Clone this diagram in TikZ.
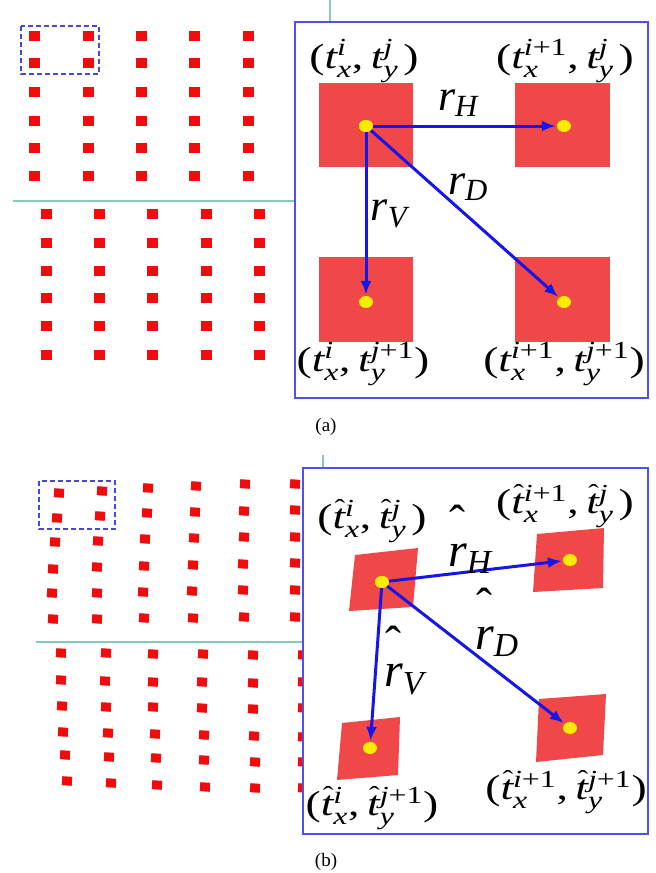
\RequirePackage{fix-cm}
\documentclass[tikz,border=0pt]{standalone}
\usepackage{amsmath}
\usepackage{fontspec}
\setmainfont{Liberation Serif}
\newfontfamily\tms{Liberation Serif}
\usetikzlibrary{arrows.meta,shapes.geometric}
\definecolor{sqc}{RGB}{240,12,12}
\definecolor{bigc}{RGB}{240,72,72}
\definecolor{dotc}{RGB}{250,236,0}
\definecolor{arrc}{RGB}{22,22,235}
\definecolor{framec}{RGB}{80,80,240}
\definecolor{dashc}{RGB}{70,70,215}
\definecolor{tealline}{RGB}{130,205,185}
\newcommand{\iv}[1]{\text{\tms\itshape #1}}
\newcommand{\rv}[1]{\text{\tms #1}}
\newcommand{\sx}[1]{\scalebox{1.3}[1]{#1}}
\newcommand{\cm}{\rv{,}\mkern3mu}
\newcommand{\sqa}[2]{\fill[sqc] ({#1-5.5},{#2-5}) rectangle ({#1+5.5},{#2+5});}
\newcommand{\sqb}[2]{\fill[sqc,rotate around={-4:(#1,#2)}] ({#1-5},{#2-4.5}) rectangle ({#1+5},{#2+4.5});}
\tikzset{
  dot/.style={ellipse, fill=dotc, minimum width=14pt, minimum height=12pt, inner sep=0pt},
  arr/.style={-{Latex[length=14pt,width=11pt]}, line width=3pt, draw=arrc, shorten >=1pt},
  tup/.style={font=\fontsize{35}{38}\selectfont, inner sep=0pt},
  rlab/.style={font=\fontsize{44}{48}\selectfont, inner sep=0pt},
  rlabb/.style={font=\fontsize{48}{52}\selectfont, inner sep=0pt},
  captext/.style={font=\fontsize{19}{21}\selectfont, inner sep=0pt},
  framebox/.style={draw=framec, line width=1.6pt, fill=white},
  dashbox/.style={draw=dashc, line width=1.5pt, dash pattern=on 5pt off 3pt},
  sepline/.style={draw=tealline, line width=1.4pt}
}
\begin{document}
\begin{tikzpicture}[x=1pt,y=-1pt]
\path[use as bounding box, fill=white] (0,0) rectangle (656,873);
% ---------------- panel (a) ----------------
\foreach \x in {34,88,141,194,248}{\foreach \y in {36,63,92,121,148,176}{\sqa{\x}{\y}}}
\foreach \x in {46,99,152,206,259}{\foreach \y in {214,243,271,298,326,355}{\sqa{\x}{\y}}}
\draw[sepline] (13,201) -- (296,201);
\draw[sepline] (330,0) -- (330,23);
\draw[dashbox] (21,26) rectangle (99,74);
\draw[framebox] (295,22) rectangle (648,398);
\fill[bigc] (319,83) rectangle (413,167);
\fill[bigc] (515,83) rectangle (610,167);
\fill[bigc] (319,257) rectangle (413,342);
\fill[bigc] (515,257) rectangle (610,342);
\node[dot] (A) at (366,126) {};
\node[dot] (B) at (564,126) {};
\node[dot] (C) at (366,302) {};
\node[dot] (D) at (564,302) {};
\draw[arr] (A.center) -- (B);
\draw[arr] (A.center) -- (C);
\draw[arr] (A.center) -- (D);
\fill[dotc] (A.center) ellipse [x radius=7, y radius=6];
\node[tup] (la1) at (364,61) {\sx{$\rv{(}\iv{t}^{\iv{i}}_{\iv{x}}\cm\iv{t}^{\iv{j}}_{\iv{y}}\mkern2mu\rv{)}$}};
\node[tup] (la2) at (565,61) {\sx{$\rv{(}\iv{t}^{\iv{i}\rv{+1}}_{\iv{x}}\cm\iv{t}^{\iv{j}}_{\iv{y}}\mkern2mu\rv{)}$}};
\node[tup] (la3) at (363,364) {\sx{$\rv{(}\iv{t}^{\iv{i}}_{\iv{x}}\cm\iv{t}^{\iv{j}\rv{+1}}_{\iv{y}}\rv{)}$}};
\node[tup] (la4) at (564,364) {\sx{$\rv{(}\iv{t}^{\iv{i}\rv{+1}}_{\iv{x}}\cm\iv{t}^{\iv{j}\rv{+1}}_{\iv{y}}\rv{)}$}};
\node[rlab] (rh) at (458,103) {$\iv{r}_{\iv{H}}$};
\node[rlab] (rd) at (468,187) {$\iv{r}_{\iv{D}}$};
\node[rlab] (rv) at (389,214) {$\iv{r}_{\iv{V}}$};
\node[captext] (capa) at (326,427) {(a)};
% ---------------- panel (b) ----------------
\foreach \u/\v in {59/493,102/491,148/488,196/486,245/484,295/484,
                57/518,100/516,147/513,195/512,244/511,295/510,
                55/542,98/541,145/539,194/538,244/537,295/537,
                53/569,97/567,144/566,193/565,243/564,295/563,
                52/593,97/593,143/592,192/591,243/590,295/590,
                53/619,97/619,144/618,193/618,244/617,295/617,
                61/653,106/653,153/654,203/654,253/655,303/655,
                61/680,105/681,153/682,202/682,253/683,303/682,
                62/706,106/707,153/707,202/708,253/709,303/708,
                63/732,108/733,155/734,204/735,254/736,303/737,
                65/755,109/757,156/758,204/760,255/762,303/762,
                67/781,111/783,157/785,205/787,255/788,303/788}{\sqb{\u}{\v}}
\draw[sepline] (36,642) -- (304,642);
\draw[sepline] (323,455) -- (323,468);
\draw[dashbox] (39,481) rectangle (115,529);
\draw[framebox] (303,468) rectangle (648,834);
\fill[bigc] (355,555) -- (418,548) -- (413,607) -- (349,611) -- cycle;
\fill[bigc] (537,534) -- (604,528) -- (603,588) -- (533,592) -- cycle;
\fill[bigc] (342,723) -- (400,717) -- (398,775) -- (337,780) -- cycle;
\fill[bigc] (539,699) -- (606,694) -- (603,755) -- (536,762) -- cycle;
\node[dot] (E) at (382,582) {};
\node[dot] (F) at (570,560) {};
\node[dot] (G) at (370,748) {};
\node[dot] (H) at (570,728) {};
\draw[arr] (E.center) -- (F);
\draw[arr] (E.center) -- (G);
\draw[arr] (E.center) -- (H);
\fill[dotc] (E.center) ellipse [x radius=7, y radius=6];
\node[tup] (lb1) at (372,521) {\sx{$\rv{(}\iv{t}^{\mkern-6mu\rv{ˆ}\iv{i}}_{\iv{x}}\cm\iv{t}^{\mkern-6mu\rv{ˆ}\iv{j}}_{\iv{y}}\mkern2mu\rv{)}$}};
\node[tup] (lb2) at (565,506) {\sx{$\rv{(}\iv{t}^{\mkern-6mu\rv{ˆ}\iv{i}\rv{+1}}_{\iv{x}}\cm\iv{t}^{\mkern-6mu\rv{ˆ}\iv{j}}_{\iv{y}}\mkern2mu\rv{)}$}};
\node[tup] (lb3) at (372,808) {\sx{$\rv{(}\iv{t}^{\mkern-6mu\rv{ˆ}\iv{i}}_{\iv{x}}\cm\iv{t}^{\mkern-6mu\rv{ˆ}\iv{j}\rv{+1}}_{\iv{y}}\rv{)}$}};
\node[tup] (lb4) at (566,792) {\sx{$\rv{(}\iv{t}^{\mkern-6mu\rv{ˆ}\iv{i}\rv{+1}}_{\iv{x}}\cm\iv{t}^{\mkern-6mu\rv{ˆ}\iv{j}\rv{+1}}_{\iv{y}}\rv{)}$}};
\node[rlabb] (rhb) at (470,538) {$\overset{\textstyle\rv{ˆ}}{\iv{r}}{}_{\iv{H}}$};
\node[rlabb] (rdb) at (497,621) {$\overset{\textstyle\rv{ˆ}}{\iv{r}}{}_{\iv{D}}$};
\node[rlabb] (rvb) at (404,659) {$\overset{\textstyle\rv{ˆ}}{\iv{r}}{}_{\iv{V}}$};
\node[captext] (capb) at (326,862) {(b)};
\end{tikzpicture}
\end{document}
